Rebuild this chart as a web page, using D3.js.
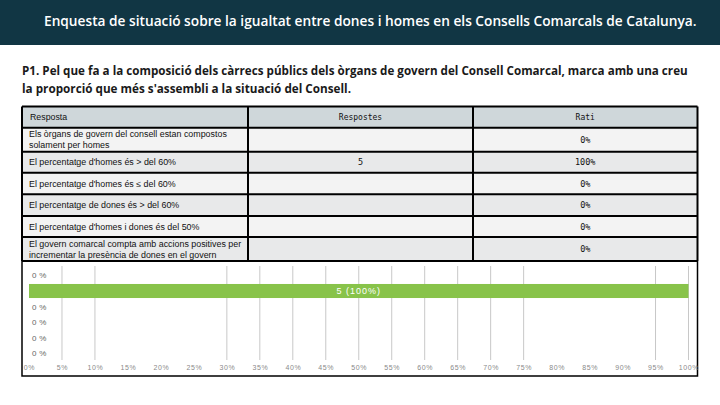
<!DOCTYPE html>
<html>
<head>
<meta charset="utf-8">
<script src="https://cdn.jsdelivr.net/npm/d3@7"></script>
<style>
  body { margin: 0; background: #fff; }
  svg { display: block; }
</style>
</head>
<body>
<div id="chart"></div>
<script>
// data
var titol = 'Enquesta de situació sobre la igualtat entre dones i homes en els Consells Comarcals de Catalunya.';
var pregunta = ['P1. Pel que fa a la composició dels càrrecs públics dels òrgans de govern del Consell Comarcal, marca amb una creu',
                'la proporció que més s\'assembli a la situació del Consell.'];
var capcaleres = ['Resposta', 'Respostes', 'Rati'];
var respostes = [
    ['Els òrgans de govern del consell estan compostos', 'solament per homes'],
    ['El percentatge d\'homes és > del 60%'],
    ['El percentatge d\'homes és ≤ del 60%'],
    ['El percentatge de dones és > del 60%'],
    ['El percentatge d\'homes i dones és del 50%'],
    ['El govern comarcal compta amb accions positives per', 'incrementar la presència de dones en el govern']
];
var recompte = [0, 5, 0, 0, 0, 0];
var rati = [0, 100, 0, 0, 0, 0];
var ticksPct = [0, 5, 10, 15, 20, 25, 30, 35, 40, 45, 50, 55, 60, 65, 70, 75, 80, 85, 90, 95, 100];

var W = 720, H = 405;
var svg = d3.select('#chart').append('svg').attr('width', W).attr('height', H);

// squeeze a text horizontally so it spans the given width
function fitText(sel, x, y, width) {
    var w = sel.node().getComputedTextLength();
    var k = Math.min(1, width / w);
    sel.attr('transform', 'translate(' + x + ',' + y + ') scale(' + k + ',1)');
}

// title bar
svg.append('rect').attr('x', 0).attr('y', 0).attr('width', W).attr('height', 45).attr('fill', '#113644');
var t0 = svg.append('text').text(titol)
    .attr('fill', '#fff')
    .attr('font-family', 'Open Sans, sans-serif').attr('font-weight', 600).attr('font-size', 14);
fitText(t0, 44, 26, 653);

// question
var qLens = [666, 329];
pregunta.forEach(function (t, i) {
    var q = svg.append('text').text(t)
        .attr('fill', '#1a1a1a')
        .attr('font-family', 'Open Sans, sans-serif').attr('font-weight', 700).attr('font-size', 12.5);
    fitText(q, 22, 75 + i * 18, qLens[i]);
});

// table
var colX = [22, 248, 473, 697.5];
var rowY = [106.5, 127.7, 151.7, 172.7, 194.3, 216, 237, 261];
var fills = ['#cfd7da', '#f3f3f3', '#e8e9ea', '#f3f3f3', '#e8e9ea', '#f3f3f3', '#e8e9ea'];
var tbl = svg.append('g');

tbl.selectAll('rect.row').data(fills).enter().append('rect')
    .attr('x', colX[0]).attr('y', function (d, i) { return rowY[i]; })
    .attr('width', colX[3] - colX[0])
    .attr('height', function (d, i) { return rowY[i + 1] - rowY[i]; })
    .attr('fill', function (d) { return d; });

tbl.selectAll('line.h').data(rowY).enter().append('line')
    .attr('x1', colX[0]).attr('x2', colX[3])
    .attr('y1', function (d) { return d; }).attr('y2', function (d) { return d; })
    .attr('stroke', '#000').attr('stroke-width', 2);
tbl.selectAll('line.v').data(colX).enter().append('line')
    .attr('x1', function (d) { return d; }).attr('x2', function (d) { return d; })
    .attr('y1', rowY[0]).attr('y2', rowY[rowY.length - 1])
    .attr('stroke', '#000').attr('stroke-width', 2);

// header
tbl.append('text').text(capcaleres[0]).attr('x', 30).attr('y', 120)
    .attr('font-family', 'Liberation Sans, sans-serif').attr('font-size', 8.8).attr('fill', '#111');
tbl.append('text').text(capcaleres[1]).attr('x', (colX[1] + colX[2]) / 2).attr('y', 120)
    .attr('text-anchor', 'middle')
    .attr('font-family', 'DejaVu Sans Mono, monospace').attr('font-size', 8).attr('fill', '#111');
tbl.append('text').text(capcaleres[2]).attr('x', (colX[2] + colX[3]) / 2).attr('y', 120)
    .attr('text-anchor', 'middle')
    .attr('font-family', 'DejaVu Sans Mono, monospace').attr('font-size', 8).attr('fill', '#111');

respostes.forEach(function (lines, i) {
    var y0 = rowY[i + 1], y1 = rowY[i + 2], cy = (y0 + y1) / 2;
    var first = cy + 3 - (lines.length - 1) * 5.5;
    lines.forEach(function (l, j) {
        tbl.append('text').text(l).attr('x', 29).attr('y', first + j * 11)
            .attr('font-family', 'Liberation Sans, sans-serif').attr('font-size', 8.9).attr('fill', '#111');
    });
    if (recompte[i] > 0) {
        tbl.append('text').text(recompte[i]).attr('x', (colX[1] + colX[2]) / 2).attr('y', cy + 3)
            .attr('text-anchor', 'middle')
            .attr('font-family', 'DejaVu Sans Mono, monospace').attr('font-size', 8.5).attr('fill', '#111');
    }
    tbl.append('text').text(rati[i] + '%').attr('x', (colX[2] + colX[3]) / 2).attr('y', cy + 3)
        .attr('text-anchor', 'middle')
        .attr('font-family', 'DejaVu Sans Mono, monospace').attr('font-size', 8.5).attr('fill', '#111');
});

// bar chart
var x = d3.scaleLinear().domain([0, 100]).range([29, 688.5]);
var y = d3.scaleBand().domain(d3.range(respostes.length)).range([267.6, 361.2]).paddingInner(0.1).paddingOuter(0.05);
var chart = svg.append('g');

// chart frame
chart.append('path')
    .attr('d', 'M22,261V376H697.5V261')
    .attr('fill', 'none').attr('stroke', '#000').attr('stroke-width', 1.5);

var hiddenGrid = [15, 20, 25, 80, 85, 90];
chart.selectAll('line.grid').data(ticksPct.filter(function (t) { return t > 0 && hiddenGrid.indexOf(t) < 0; }))
    .enter().append('line')
    .attr('x1', function (d) { return x(d); }).attr('x2', function (d) { return x(d); })
    .attr('y1', 266).attr('y2', 360)
    .attr('stroke', '#c8c8c8').attr('stroke-width', 1);

var xAxis = d3.axisBottom(x).tickValues(ticksPct).tickSize(0).tickFormat(function (d) { return d + '%'; });
var ax = chart.append('g').attr('transform', 'translate(0,362)').call(xAxis);
ax.select('.domain').remove();
ax.selectAll('text')
    .attr('font-family', 'Liberation Sans, sans-serif').attr('font-size', 7)
    .attr('letter-spacing', 0.6).attr('fill', '#8a8a8a');

chart.selectAll('rect.bar').data(rati).enter().append('rect')
    .attr('x', x(0))
    .attr('y', function (d, i) { return y(i); })
    .attr('width', function (d) { return x(d) - x(0); })
    .attr('height', y.bandwidth())
    .attr('fill', '#88c34a');

chart.selectAll('text.lbl').data(rati).enter().append('text')
    .attr('x', function (d) { return d > 0 ? (x(0) + x(d)) / 2 : 32; })
    .attr('y', function (d, i) { return y(i) + y.bandwidth() / 2 + 3; })
    .attr('text-anchor', function (d) { return d > 0 ? 'middle' : 'start'; })
    .attr('font-family', 'Liberation Sans, sans-serif')
    .attr('font-size', function (d) { return d > 0 ? 9 : 8; })
    .attr('letter-spacing', function (d) { return d > 0 ? 1 : 0.3; })
    .attr('fill', function (d) { return d > 0 ? '#fff' : '#666'; })
    .text(function (d, i) { return d > 0 ? recompte[i] + ' (' + d + '%)' : d + ' %'; });
</script>
</body>
</html>
